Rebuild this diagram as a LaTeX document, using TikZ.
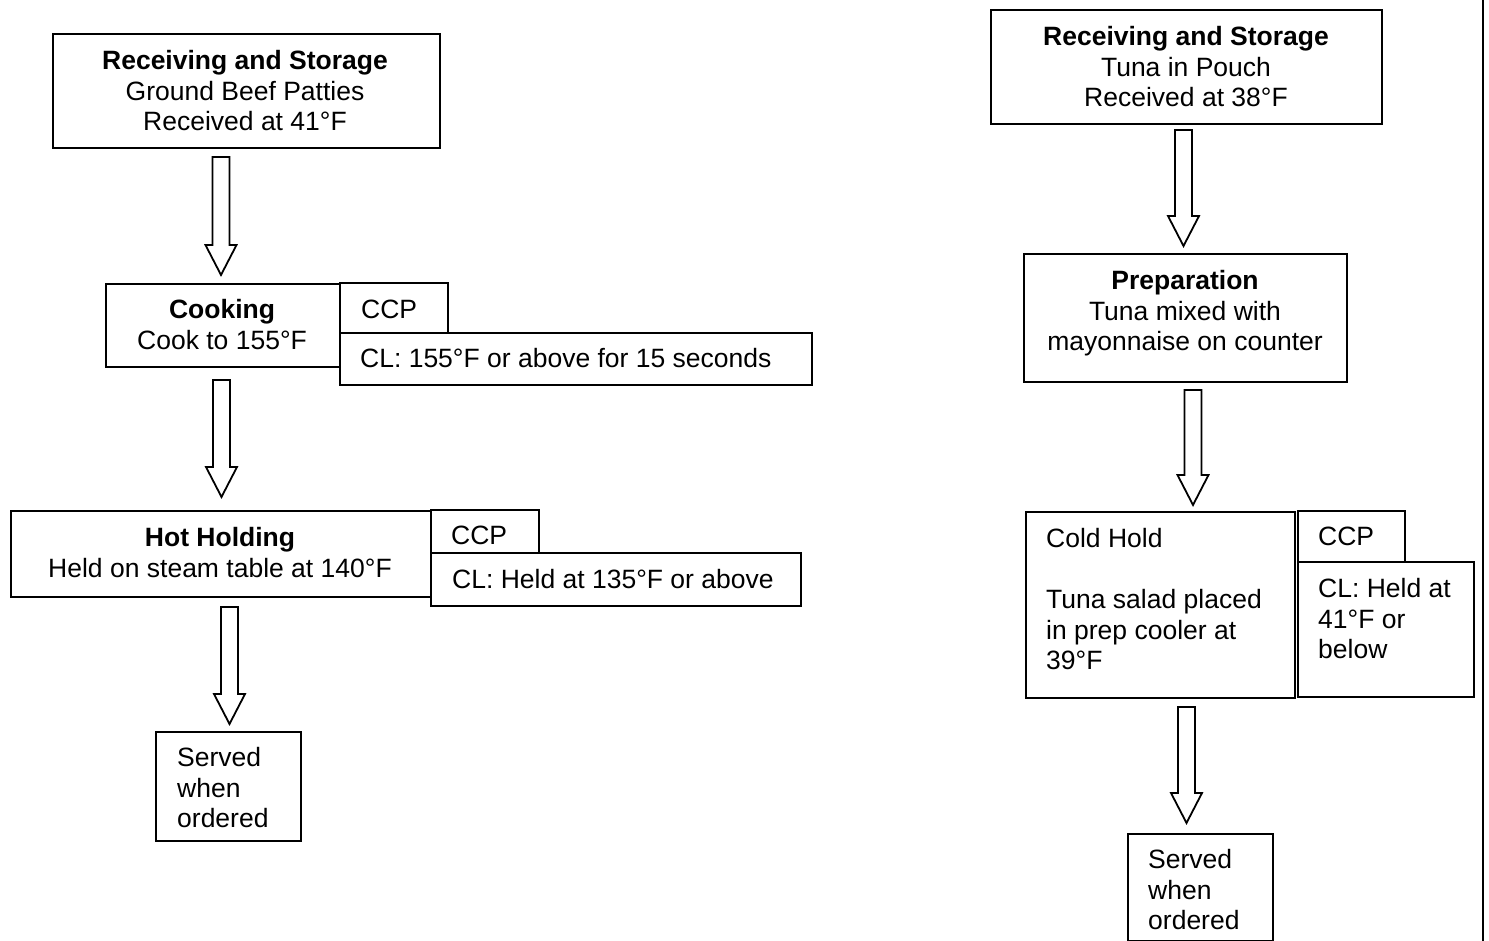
\documentclass[tikz,border=0pt]{standalone}
\usepackage{fontspec}
\setmainfont{Liberation Sans}
\usetikzlibrary{calc}
\tikzset{
  box/.style={draw, line width=1.8pt, inner sep=0pt, anchor=north west},
  txt/.style={inner sep=0pt, font=\fontsize{26.5}{30.5}\selectfont},
  blk/.style={draw, line width=1.8pt, line join=miter, fill=white},
  edge/.style={draw, line width=1.6pt}
}
\newcommand\blockarrow[2]{%
  \draw[blk] let \p1=(#1), \p2=(#2) in
    (\x1-8.5pt,\y1) -- (\x1-8.5pt,\y2+30pt) -- (\x1-15.5pt,\y2+30pt) --
    (\x1,\y2) -- (\x1+15.5pt,\y2+30pt) -- (\x1+8.5pt,\y2+30pt) --
    (\x1+8.5pt,\y1) -- cycle;}
\begin{document}
\begin{tikzpicture}[x=1pt,y=-1pt]
\useasboundingbox (0,0) rectangle (1489,941);
% ---------- left chart: boxes ----------
\node[box, minimum width=387pt, minimum height=114pt] (L1) at (52,33) {};
\node[box, minimum width=234pt, minimum height=83pt] (Lcook) at (105,283) {};
\node[box, minimum width=108pt, minimum height=50pt] (Lccp1) at (339,282) {};
\node[box, minimum width=472pt, minimum height=52pt] (Lcl1) at (339,332) {};
\node[box, minimum width=420pt, minimum height=86pt] (Lhot) at (10,510) {};
\node[box, minimum width=108pt, minimum height=43pt] (Lccp2) at (430,509) {};
\node[box, minimum width=370pt, minimum height=53pt] (Lcl2) at (430,552) {};
\node[box, minimum width=145pt, minimum height=109pt] (Lserv) at (155,731) {};
% ---------- left chart: texts ----------
\node[txt, anchor=north, align=center] (L1t) at (245,50.5)
  {\textbf{Receiving and Storage}\\Ground Beef Patties\\Received at 41°F};
\node[txt, anchor=north, align=center] (Lcookt) at (222,299.5)
  {\textbf{Cooking}\\Cook to 155°F};
\node[txt, anchor=north west] (Lccp1t) at (361,299.5) {CCP};
\node[txt, anchor=north west] (Lcl1t) at (360,348.5) {CL: 155°F or above for 15 seconds};
\node[txt, anchor=north, align=center] (Lhott) at (220,527.5)
  {\textbf{Hot Holding}\\Held on steam table at 140°F};
\node[txt, anchor=north west] (Lccp2t) at (451,525.5) {CCP};
\node[txt, anchor=north west] (Lcl2t) at (452,569.5) {CL: Held at 135°F or above};
\node[txt, anchor=north west, align=left] (Lservt) at (177,747.5)
  {Served\\when\\ordered};
% ---------- right chart: boxes ----------
\node[box, minimum width=391pt, minimum height=114pt] (R1) at (990,9) {};
\node[box, minimum width=323pt, minimum height=128pt] (Rprep) at (1023,253) {};
\node[box, minimum width=269pt, minimum height=186pt] (Rcold) at (1025,511) {};
\node[box, minimum width=107pt, minimum height=51pt] (Rccp) at (1297,510) {};
\node[box, minimum width=176pt, minimum height=135pt] (Rcl) at (1297,561) {};
\node[box, minimum width=145pt, minimum height=107pt] (Rserv) at (1127,833) {};
% ---------- right chart: texts ----------
\node[txt, anchor=north, align=center] (R1t) at (1186,26.5)
  {\textbf{Receiving and Storage}\\Tuna in Pouch\\Received at 38°F};
\node[txt, anchor=north, align=center] (Rprept) at (1185,270.5)
  {\textbf{Preparation}\\Tuna mixed with\\mayonnaise on counter};
\node[txt, anchor=north west, align=left] (Rcoldt) at (1046,528.5)
  {Cold Hold\\[30.5pt]Tuna salad placed\\in prep cooler at\\39°F};
\node[txt, anchor=north west] (Rccpt) at (1318,526.5) {CCP};
\node[txt, anchor=north west, align=left] (Rclt) at (1318,578.5)
  {CL: Held at\\41°F or\\below};
\node[txt, anchor=north west, align=left] (Rservt) at (1148,849.5)
  {Served\\when\\ordered};
% ---------- block arrows ----------
\coordinate (a1s) at (221,157);   \coordinate (a1e) at (221,275);
\coordinate (a2s) at (221.5,380); \coordinate (a2e) at (221.5,497);
\coordinate (a3s) at (229.5,607); \coordinate (a3e) at (229.5,724);
\coordinate (a4s) at (1183.5,130);\coordinate (a4e) at (1183.5,246);
\coordinate (a5s) at (1193,390);  \coordinate (a5e) at (1193,505);
\coordinate (a6s) at (1186.5,707);\coordinate (a6e) at (1186.5,823);
\blockarrow{a1s}{a1e}
\blockarrow{a2s}{a2e}
\blockarrow{a3s}{a3e}
\blockarrow{a4s}{a4e}
\blockarrow{a5s}{a5e}
\blockarrow{a6s}{a6e}
% ---------- right edge line ----------
\coordinate (rt) at (1483,0);
\coordinate (rb) at (1483,941);
\draw[edge] (rt) -- (rb);
\end{tikzpicture}
\end{document}
